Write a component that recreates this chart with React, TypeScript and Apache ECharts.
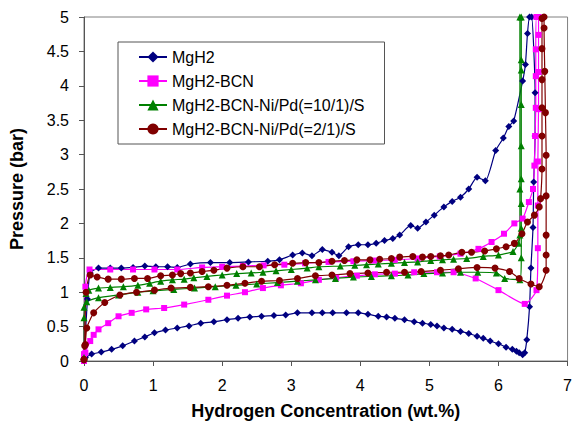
import React, { useEffect, useRef } from "react";
import * as echarts from "echarts";

const seriesNames = [
  "MgH2",
  "MgH2-BCN",
  "MgH2-BCN-Ni/Pd(=10/1)/S",
  "MgH2-BCN-Ni/Pd(=2/1)/S",
];

const xTicks = [0, 1, 2, 3, 4, 5, 6, 7];
const yTicks = [0, 0.5, 1, 1.5, 2, 2.5, 3, 3.5, 4, 4.5, 5];

// MgH2: absorption then desorption
const mgh2 = [
  [0.0, 0.03], [0.05, 0.9], [0.09, 1.28], [0.21, 1.35], [0.38, 1.35], [0.54, 1.35], [0.71, 1.36],
  [0.88, 1.38], [1.04, 1.37], [1.21, 1.37], [1.35, 1.36], [1.54, 1.41], [1.83, 1.43], [2.11, 1.43],
  [2.38, 1.44], [2.66, 1.45], [2.83, 1.47], [3.02, 1.54], [3.16, 1.57], [3.3, 1.53], [3.45, 1.62],
  [3.59, 1.58], [3.69, 1.53], [3.83, 1.66], [3.97, 1.69], [4.11, 1.69], [4.23, 1.71], [4.35, 1.75],
  [4.47, 1.78], [4.57, 1.83], [4.73, 1.97], [4.83, 1.93], [4.95, 2.02], [5.07, 2.12], [5.21, 2.24],
  [5.33, 2.32], [5.45, 2.38], [5.57, 2.5], [5.69, 2.67], [5.81, 2.62], [5.96, 3.06], [6.07, 3.24],
  [6.15, 3.41], [6.22, 3.49], [6.35, 4.07], [6.39, 4.31], [6.42, 4.76], [6.45, 5.0],
  [6.48, 5.0], [6.53, 3.9], [6.53, 3.27], [6.51, 2.6], [6.5, 1.94], [6.47, 1.35], [6.45, 0.79],
  [6.41, 0.31], [6.38, 0.12], [6.35, 0.09], [6.3, 0.12], [6.26, 0.14], [6.2, 0.17], [6.11, 0.2],
  [6.0, 0.25], [5.88, 0.29], [5.78, 0.33], [5.69, 0.36], [5.57, 0.4], [5.45, 0.43], [5.33, 0.46],
  [5.21, 0.48], [5.11, 0.51], [5.02, 0.53], [4.9, 0.55], [4.78, 0.57], [4.64, 0.6], [4.5, 0.62],
  [4.38, 0.64], [4.26, 0.65], [4.11, 0.68], [3.97, 0.7], [3.8, 0.7], [3.6, 0.7], [3.45, 0.7],
  [3.3, 0.7], [3.09, 0.7], [2.92, 0.67], [2.75, 0.66], [2.57, 0.65], [2.4, 0.64], [2.23, 0.62],
  [2.07, 0.6], [1.88, 0.57], [1.69, 0.55], [1.52, 0.51], [1.35, 0.48], [1.18, 0.45], [1.02, 0.41],
  [0.88, 0.35], [0.73, 0.29], [0.56, 0.22], [0.4, 0.17], [0.25, 0.13], [0.11, 0.1], [0.02, 0.05],
];

const mgh2Bcn = [
  [0.0, 0.0], [0.0, 0.1], [0.02, 1.08], [0.08, 1.33], [0.38, 1.33], [0.71, 1.33], [1.02, 1.33],
  [1.35, 1.33], [1.71, 1.36], [2.0, 1.37], [2.3, 1.38], [2.6, 1.39], [2.9, 1.4], [3.2, 1.42],
  [3.54, 1.44], [3.9, 1.45], [4.2, 1.46], [4.5, 1.47], [4.83, 1.49], [5.15, 1.52], [5.45, 1.56],
  [5.71, 1.63], [5.9, 1.73], [6.08, 1.85], [6.23, 2.0], [6.35, 2.07], [6.44, 2.31], [6.5, 2.5],
  [6.52, 2.84], [6.53, 3.27], [6.54, 3.68], [6.54, 4.14], [6.54, 4.53], [6.55, 5.0],
  [6.58, 5.0], [6.58, 4.74], [6.58, 4.2], [6.58, 3.66], [6.57, 2.9], [6.57, 2.26], [6.57, 1.64],
  [6.55, 1.03], [6.38, 0.83], [6.0, 1.03], [5.67, 1.2], [5.35, 1.29], [5.11, 1.29], [4.78, 1.29],
  [4.5, 1.27], [4.21, 1.26], [3.95, 1.24], [3.65, 1.21], [3.4, 1.18], [3.14, 1.13], [2.85, 1.1],
  [2.59, 1.06], [2.33, 1.0], [2.07, 0.95], [1.8, 0.89], [1.45, 0.82], [1.16, 0.77], [0.9, 0.75],
  [0.69, 0.7], [0.5, 0.65], [0.35, 0.55], [0.21, 0.46], [0.14, 0.38], [0.09, 0.29], [0.02, 0.12],
  [0.0, 0.02],
];

const niPd10 = [
  [0.0, 0.05], [0.0, 0.63], [0.03, 0.98], [0.07, 1.03], [0.21, 1.06], [0.38, 1.07], [0.57, 1.08],
  [0.78, 1.1], [0.95, 1.13], [1.11, 1.16], [1.28, 1.18], [1.45, 1.19], [1.59, 1.21], [1.78, 1.23],
  [2.0, 1.25], [2.21, 1.27], [2.42, 1.28], [2.59, 1.29], [2.78, 1.31], [3.0, 1.33], [3.23, 1.35],
  [3.4, 1.37], [3.71, 1.38], [3.92, 1.39], [4.09, 1.4], [4.26, 1.41], [4.45, 1.42], [4.64, 1.43],
  [4.83, 1.44], [5.02, 1.46], [5.19, 1.47], [5.35, 1.48], [5.54, 1.49], [5.78, 1.52], [6.0, 1.54],
  [6.21, 1.59], [6.29, 1.71], [6.31, 1.83], [6.31, 2.5], [6.31, 5.0],
  [6.33, 5.0], [6.33, 4.38], [6.33, 4.23], [6.33, 3.73], [6.33, 3.13], [6.33, 2.65], [6.33, 2.29],
  [6.33, 1.93], [6.33, 1.5], [6.31, 1.18], [6.09, 1.2], [5.97, 1.28], [5.7, 1.29], [5.45, 1.29],
  [5.19, 1.28], [4.92, 1.27], [4.69, 1.25], [4.45, 1.24], [4.16, 1.23], [3.9, 1.22], [3.64, 1.2],
  [3.35, 1.18], [3.09, 1.16], [2.8, 1.14], [2.5, 1.12], [2.2, 1.1], [1.9, 1.08], [1.6, 1.06],
  [1.3, 1.04], [1.0, 1.02], [0.78, 1.0], [0.5, 0.96], [0.21, 0.92], [0.04, 0.86], [0.0, 0.78],
];

const niPd2 = [
  [0.0, 0.02], [0.01, 0.22], [0.03, 1.0], [0.09, 1.25], [0.19, 1.22], [0.35, 1.19], [0.54, 1.19],
  [0.73, 1.2], [0.92, 1.2], [1.11, 1.24], [1.28, 1.25], [1.4, 1.27], [1.54, 1.28], [1.71, 1.3],
  [1.88, 1.32], [2.07, 1.35], [2.3, 1.37], [2.54, 1.37], [2.76, 1.4], [3.02, 1.42], [3.21, 1.43],
  [3.4, 1.43], [3.59, 1.45], [3.77, 1.46], [3.95, 1.47], [4.14, 1.47], [4.28, 1.48], [4.45, 1.49],
  [4.57, 1.51], [4.76, 1.52], [4.9, 1.51], [5.02, 1.52], [5.16, 1.53], [5.28, 1.54], [5.47, 1.58],
  [5.61, 1.58], [5.8, 1.6], [5.97, 1.63], [6.11, 1.66], [6.23, 1.71], [6.34, 1.85], [6.42, 2.02],
  [6.52, 2.12], [6.59, 2.24], [6.61, 2.36], [6.63, 2.79], [6.63, 3.27], [6.63, 3.68], [6.63, 4.09],
  [6.63, 4.54], [6.63, 4.98],
  [6.66, 5.0], [6.66, 4.84], [6.67, 4.21], [6.68, 3.61], [6.69, 2.99], [6.69, 2.4], [6.69, 1.83],
  [6.69, 1.54], [6.69, 1.32], [6.59, 1.08], [6.47, 1.12], [6.3, 1.2], [6.16, 1.3], [5.95, 1.35],
  [5.69, 1.36], [5.42, 1.34], [5.16, 1.32], [4.88, 1.3], [4.64, 1.29], [4.38, 1.29], [4.11, 1.28],
  [3.85, 1.27], [3.59, 1.25], [3.35, 1.24], [3.09, 1.2], [2.83, 1.17], [2.57, 1.16], [2.33, 1.13],
  [2.07, 1.1], [1.8, 1.08], [1.54, 1.07], [1.26, 1.06], [1.02, 1.03], [0.76, 1.0], [0.52, 0.96],
  [0.3, 0.85], [0.14, 0.7], [0.04, 0.48], [0.02, 0.24], [0.0, 0.02],
];

const seriesData = [mgh2, mgh2Bcn, niPd10, niPd2];
const colors = ["#000080", "#FF00FF", "#008000", "#800000"];
const symbols = ["diamond", "rect", "triangle", "circle"];
const symbolSizes = [7, 6, 7, 7];

export default function App() {
  const ref = useRef<HTMLDivElement>(null);
  useEffect(() => {
    if (!ref.current) return;
    const chart = echarts.init(ref.current, undefined, { renderer: "svg" });
    const font = "'Liberation Sans', Arial, sans-serif";
    chart.setOption({
      animation: false,
      backgroundColor: "#fff",
      grid: {
        left: 82,
        right: 2,
        top: 17,
        bottom: 62,
        show: true,
        borderColor: "#808080",
        borderWidth: 1,
      },
      legend: {
        orient: "vertical",
        left: 118,
        top: 42,
        padding: [7, 20, 7, 20],
        itemGap: 8,
        itemWidth: 28,
        itemHeight: 14,
        borderColor: "#555",
        borderWidth: 1,
        backgroundColor: "#fff",
        textStyle: { fontFamily: font, fontSize: 16, color: "#000" },
        data: seriesNames,
      },
      xAxis: {
        type: "value",
        min: xTicks[0],
        max: xTicks[xTicks.length - 1],
        interval: 1,
        name: "Hydrogen Concentration (wt.%)",
        nameLocation: "middle",
        nameGap: 41,
        nameTextStyle: { fontFamily: font, fontSize: 18, fontWeight: "bold", color: "#000" },
        axisLine: { show: true, lineStyle: { color: "#555", width: 1 } },
        axisTick: { show: true, length: 5, lineStyle: { color: "#555" } },
        axisLabel: { fontFamily: font, fontSize: 16, color: "#000", margin: 16 },
        splitLine: { show: false },
      },
      yAxis: {
        type: "value",
        min: yTicks[0],
        max: yTicks[yTicks.length - 1],
        interval: 0.5,
        name: "Pressure (bar)",
        nameLocation: "middle",
        nameGap: 58,
        nameTextStyle: { fontFamily: font, fontSize: 18, fontWeight: "bold", color: "#000" },
        axisLine: { show: true, lineStyle: { color: "#555", width: 1 } },
        axisTick: { show: true, length: 5, lineStyle: { color: "#555" } },
        axisLabel: { fontFamily: font, fontSize: 16, color: "#000", margin: 15 },
        splitLine: { show: false },
      },
      series: seriesNames.map((name, i) => ({
        name,
        type: "line",
        data: seriesData[i],
        smooth: 0.2,
        symbol: symbols[i],
        symbolSize: symbolSizes[i],
        showAllSymbol: true,
        clip: true,
        itemStyle: { color: colors[i] },
        lineStyle: { color: colors[i], width: 1.2 },
      })),
    });
    return () => chart.dispose();
  }, []);
  return (
    <div
      ref={ref}
      style={{ position: "fixed", left: 0, top: 0, width: 575, height: 425 }}
    />
  );
}
